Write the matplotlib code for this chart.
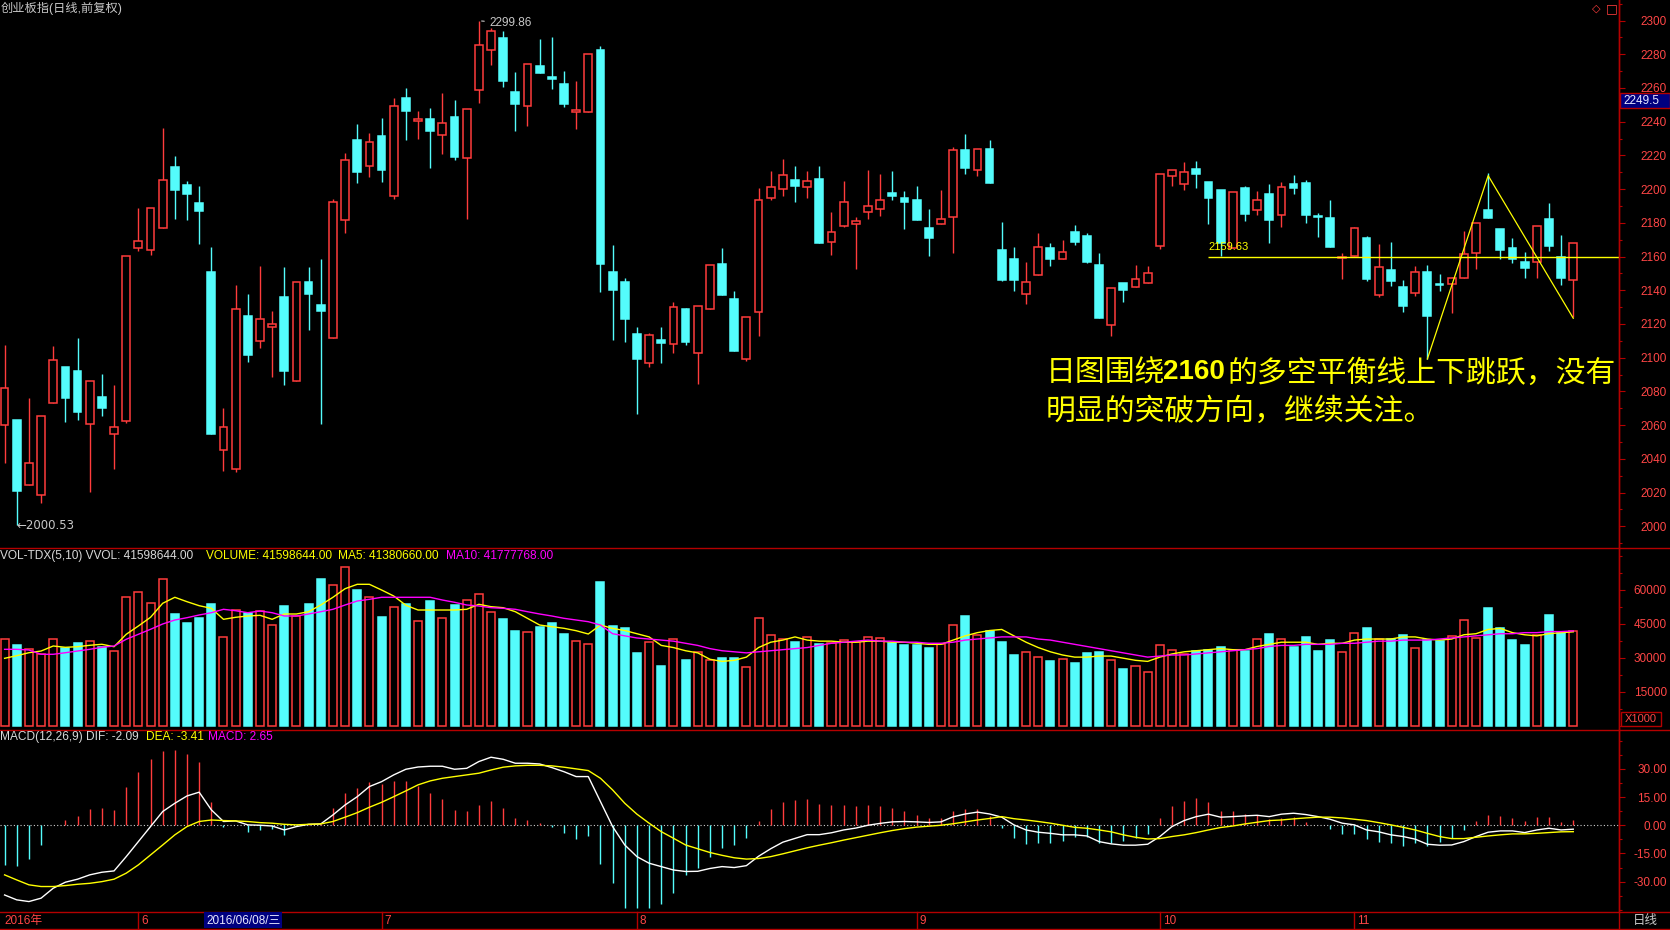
import numpy as np
import matplotlib.pyplot as plt
from matplotlib.patches import Rectangle
from matplotlib.lines import Line2D
from matplotlib.ticker import MultipleLocator

plt.rcParams['font.family'] = ['Liberation Sans', 'Noto Sans CJK SC', 'DejaVu Sans']

# ---- daily candles, 2016-05-17 .. 2016-11-25 ----
opens = [
    2059.9, 2063.0, 2024.3, 2018.3, 2072.9, 2094.5, 2092.1, 2060.5, 2076.5, 2054.5,
    2062.2, 2164.8, 2163.7, 2176.7, 2213.1, 2202.4, 2191.7, 2150.8, 2045.0, 2033.8,
    2124.7, 2109.7, 2118.0, 2136.0, 2086.0, 2144.9, 2131.2, 2111.5, 2181.4, 2229.1,
    2213.5, 2231.5, 2195.7, 2254.0, 2240.2, 2241.5, 2231.9, 2242.7, 2218.2, 2258.6,
    2282.3, 2289.6, 2257.6, 2249.6, 2272.8, 2266.3, 2262.3, 2246.0, 2245.9, 2282.5,
    2150.8, 2144.9, 2114.0, 2096.6, 2110.3, 2107.9, 2128.9, 2102.6, 2128.7, 2155.3,
    2134.8, 2099.0, 2126.9, 2194.9, 2200.2, 2205.4, 2201.0, 2205.9, 2168.4, 2178.3,
    2179.1, 2186.2, 2188.0, 2197.7, 2194.5, 2193.3, 2176.7, 2179.1, 2183.2, 2223.0,
    2211.5, 2223.6, 2163.8, 2158.5, 2137.6, 2149.2, 2164.8, 2158.3, 2174.5, 2172.2,
    2154.9, 2119.2, 2144.1, 2141.7, 2144.5, 2166.0, 2207.5, 2202.8, 2211.9, 2204.2,
    2199.2, 2164.8, 2200.6, 2187.4, 2197.1, 2184.4, 2203.0, 2203.6, 2183.6, 2182.8,
    2159.3, 2160.5, 2171.0, 2137.4, 2152.0, 2141.9, 2138.5, 2150.6, 2143.5, 2143.5,
    2147.0, 2161.9, 2187.4, 2176.3, 2164.8, 2156.5, 2156.5, 2182.0, 2159.5, 2145.9,
]
highs = [
    2107.5, 2063.0, 2075.9, 2065.2, 2106.9, 2094.5, 2111.7, 2086.0, 2090.3, 2083.6,
    2160.1, 2188.8, 2188.6, 2236.2, 2219.6, 2204.8, 2201.8, 2165.6, 2070.1, 2143.1,
    2137.8, 2154.4, 2127.7, 2153.8, 2144.7, 2153.8, 2158.5, 2194.1, 2221.2, 2238.6,
    2233.2, 2242.3, 2254.0, 2259.9, 2246.3, 2248.1, 2257.0, 2252.8, 2247.3, 2299.86,
    2295.3, 2293.6, 2269.4, 2274.0, 2289.0, 2290.2, 2270.0, 2264.1, 2279.9, 2284.8,
    2166.8, 2147.2, 2118.2, 2114.4, 2118.2, 2133.0, 2129.4, 2130.4, 2154.8, 2165.0,
    2139.5, 2123.9, 2200.4, 2210.7, 2217.8, 2213.7, 2210.7, 2213.7, 2186.4, 2204.8,
    2183.2, 2211.3, 2208.9, 2210.7, 2198.8, 2201.8, 2188.2, 2199.4, 2224.9, 2232.7,
    2223.6, 2229.1, 2180.5, 2165.6, 2156.7, 2173.9, 2168.0, 2169.8, 2178.7, 2173.9,
    2162.1, 2141.1, 2144.1, 2154.8, 2154.2, 2208.7, 2211.1, 2216.0, 2216.6, 2204.2,
    2199.6, 2198.1, 2201.8, 2198.8, 2203.0, 2204.2, 2208.3, 2205.4, 2185.6, 2193.5,
    2162.3, 2177.3, 2172.2, 2167.4, 2168.6, 2146.1, 2154.2, 2154.8, 2149.4, 2148.0,
    2175.1, 2179.7, 2209.5, 2176.3, 2171.0, 2162.5, 2177.9, 2191.7, 2172.8, 2167.8,
]
lows = [
    2037.3, 2000.53, 2024.3, 2014.0, 2072.9, 2062.0, 2063.2, 2020.1, 2065.6, 2034.2,
    2061.0, 2163.5, 2161.1, 2176.7, 2182.4, 2181.6, 2167.6, 2054.9, 2033.0, 2032.4,
    2097.6, 2105.9, 2088.7, 2084.0, 2086.0, 2116.6, 2060.9, 2111.5, 2174.1, 2203.8,
    2207.3, 2204.4, 2194.3, 2229.1, 2229.9, 2212.7, 2221.0, 2217.4, 2182.4, 2251.2,
    2273.8, 2260.7, 2234.6, 2237.6, 2269.0, 2259.5, 2248.9, 2235.8, 2245.9, 2139.1,
    2110.5, 2109.5, 2066.8, 2094.6, 2097.0, 2103.0, 2107.7, 2084.6, 2128.7, 2137.4,
    2104.1, 2098.2, 2113.0, 2193.7, 2196.1, 2192.5, 2194.9, 2168.2, 2161.1, 2177.3,
    2152.8, 2182.4, 2184.2, 2193.7, 2176.5, 2181.8, 2160.5, 2179.1, 2162.3, 2209.1,
    2208.0, 2203.8, 2145.7, 2139.7, 2132.0, 2149.2, 2154.6, 2158.3, 2167.0, 2156.1,
    2123.7, 2113.0, 2133.2, 2141.7, 2144.5, 2164.2, 2202.0, 2199.6, 2200.8, 2179.5,
    2160.5, 2164.8, 2181.2, 2184.8, 2168.2, 2177.7, 2197.3, 2180.1, 2171.8, 2165.8,
    2146.4, 2160.5, 2145.7, 2135.8, 2142.7, 2127.3, 2136.8, 2099.2, 2139.7, 2126.3,
    2147.0, 2152.8, 2183.0, 2158.3, 2155.9, 2147.4, 2147.4, 2163.5, 2143.3, 2124.3,
]
closes = [
    2081.8, 2021.1, 2037.3, 2065.2, 2098.4, 2076.3, 2068.0, 2086.0, 2070.3, 2058.7,
    2160.1, 2169.0, 2188.6, 2205.2, 2199.6, 2197.3, 2187.2, 2054.9, 2058.7, 2128.7,
    2101.8, 2122.7, 2119.8, 2092.3, 2144.7, 2138.0, 2127.9, 2192.1, 2217.0, 2210.3,
    2227.7, 2211.5, 2249.1, 2246.5, 2241.9, 2234.6, 2239.0, 2219.2, 2247.3, 2285.8,
    2293.6, 2264.3, 2250.6, 2274.0, 2269.0, 2265.5, 2250.6, 2246.3, 2279.9, 2155.7,
    2140.3, 2123.1, 2099.4, 2113.2, 2108.9, 2129.8, 2109.5, 2130.4, 2154.8, 2137.4,
    2104.1, 2123.9, 2193.3, 2201.0, 2208.1, 2202.0, 2204.6, 2168.2, 2174.3, 2192.1,
    2180.9, 2189.7, 2193.3, 2196.1, 2192.5, 2181.8, 2171.2, 2182.4, 2223.0, 2212.7,
    2223.6, 2203.8, 2146.3, 2146.3, 2144.7, 2165.4, 2158.7, 2162.5, 2168.8, 2156.7,
    2123.7, 2141.1, 2140.3, 2146.5, 2150.0, 2208.7, 2211.1, 2209.9, 2209.1, 2194.9,
    2168.2, 2198.1, 2185.4, 2193.3, 2181.8, 2201.0, 2200.8, 2184.8, 2183.2, 2165.8,
    2159.6, 2176.7, 2146.8, 2153.6, 2145.7, 2130.8, 2150.6, 2124.5, 2143.3, 2147.0,
    2161.7, 2179.7, 2183.0, 2163.7, 2158.7, 2153.4, 2177.9, 2166.4, 2147.4, 2167.8,
]

# volume in units of 1000
volumes = [
    38080, 35560, 33660, 31460, 38080, 34370, 36310, 37190, 34550, 32780,
    56870, 58810, 53960, 64550, 49240, 45270, 47610, 53650, 38960, 50870,
    49810, 50690, 44250, 52770, 48220, 53650, 64680, 62030, 69840, 59830,
    56870, 47910, 52190, 53780, 46150, 54970, 47340, 53210, 55280, 58060,
    50120, 47030, 41870, 41300, 43630, 45270, 40410, 37190, 36000, 63360,
    43830, 42890, 32090, 36760, 26430, 38160, 28770, 32560, 28770, 29700,
    29700, 25960, 47560, 40080, 38160, 36760, 39110, 35830, 36300, 37690,
    36760, 39110, 38630, 36300, 35360, 35360, 34420, 35830, 44300, 48500,
    40080, 41950, 36760, 31150, 32560, 30220, 28300, 29230, 27830, 32090,
    32560, 28770, 25030, 26430, 23620, 35360, 33490, 31620, 33020, 33490,
    34890, 33490, 33020, 38160, 40550, 38160, 34890, 39110, 33020, 37690,
    32560, 41020, 42890, 38160, 38160, 40080, 34420, 37690, 37220, 39580,
    46630, 38630, 51780, 42890, 37690, 35360, 40080, 48970, 41020, 41599,
]
vol_ma5 = [
    29690, 30840, 32160, 32910, 35120, 34550, 34810, 35430, 35870, 34810,
    40280, 43940, 47780, 53960, 56610, 54670, 52900, 51750, 46900, 47780,
    48360, 48660, 46900, 49240, 49240, 50250, 53210, 56610, 60400, 62340,
    62340, 59830, 57180, 53080, 51000, 51000, 51000, 51000, 51310, 53520,
    52460, 52020, 50250, 47340, 44380, 43630, 42930, 41870, 40410, 44380,
    42890, 41950, 40540, 39130, 35380, 34440, 33030, 32090, 29270, 28330,
    28800, 30210, 34440, 36790, 37730, 39130, 37730, 37260, 37260, 36790,
    36790, 37260, 37260, 36790, 36790, 36320, 35850, 35850, 37730, 39600,
    41010, 41950, 42420, 39600, 36790, 34440, 32560, 31150, 30210, 30210,
    30680, 30680, 29740, 28800, 28330, 30210, 31620, 32560, 33030, 33500,
    33970, 33500, 33500, 34910, 35850, 36790, 36790, 36790, 35850, 36320,
    36320, 37730, 38200, 38200, 38200, 39130, 39130, 38200, 37730, 38200,
    40070, 40540, 42420, 42890, 41010, 40070, 39600, 40540, 41010, 41381,
]
vol_ma10 = [
    33660, 33660, 33350, 31460, 31460, 32160, 32910, 33660, 34550, 35120,
    38080, 40280, 42490, 44830, 46590, 47610, 48800, 49810, 51310, 50690,
    49810, 50560, 49810, 48360, 48360, 49240, 50250, 51310, 53210, 54970,
    55720, 56610, 56610, 56610, 56610, 56610, 55410, 54400, 53210, 52770,
    52020, 51750, 51310, 50250, 49240, 48360, 47340, 46590, 45840, 44380,
    40540, 39600, 38660, 38200, 37730, 37260, 36320, 35380, 33970, 33030,
    32560, 32090, 32560, 33030, 33500, 33970, 34440, 35380, 36320, 36790,
    37260, 37730, 37260, 37260, 36790, 36790, 36320, 36320, 36790, 37730,
    38200, 38660, 39130, 39130, 39130, 38200, 37730, 36790, 35850, 34910,
    33970, 33030, 32090, 31150, 30210, 30680, 31150, 31150, 31620, 32090,
    32560, 33030, 33500, 33970, 34910, 35380, 35380, 35850, 35850, 35850,
    36320, 36320, 36790, 37260, 37260, 37730, 37730, 37730, 38200, 38660,
    39130, 39600, 40070, 40540, 40540, 41010, 41010, 41480, 41480, 41778,
]

# MACD(12,26,9)
dif = [
    -37.1, -39.7, -40.6, -38.8, -33.5, -30.3, -28.7, -26.4, -25.0, -24.3,
    -16.7, -8.7, -0.7, 7.3, 11.7, 15.6, 17.6, 8.2, 2.0, 2.3,
    0.2, 0.0, -0.4, -2.5, -0.7, 0.5, 0.7, 5.5, 10.8, 15.2,
    20.6, 23.2, 26.8, 29.8, 31.0, 31.4, 31.4, 29.8, 30.3, 33.9,
    36.2, 35.1, 33.0, 33.0, 32.6, 30.7, 28.5, 25.9, 25.9, 12.6,
    -0.7, -10.5, -16.7, -20.2, -22.0, -23.8, -24.6, -24.5, -23.0, -22.0,
    -22.5, -21.5, -16.5, -12.5, -9.0, -7.0, -5.0, -5.0, -4.0, -2.5,
    -1.5, 0.0, 1.0, 1.8, 2.0, 1.8, 1.5, 1.8, 4.5, 6.0,
    7.0, 6.0, 4.3, 0.2, -2.5, -3.7, -4.3, -5.1, -5.1, -5.7,
    -8.7, -9.9, -10.6, -10.6, -10.1, -6.0, -0.7, 2.5, 4.6, 5.9,
    4.3, 4.6, 5.0, 5.3, 4.6, 5.9, 6.4, 5.7, 4.6, 3.2,
    1.1, 0.2, -2.5, -3.5, -5.1, -6.0, -7.4, -10.1, -10.6, -10.5,
    -8.7, -6.0, -3.7, -3.0, -3.0, -3.9, -2.5, -1.6, -2.5, -2.09,
]
dea = [
    -26.4, -29.1, -31.7, -32.6, -32.6, -32.1, -31.4, -30.9, -30.0, -28.7,
    -25.5, -21.1, -15.8, -10.5, -5.1, -0.7, 2.0, 2.8, 2.5, 2.3,
    2.0, 1.4, 1.1, 0.5, 0.2, 0.5, 0.7, 2.0, 4.3, 6.7,
    9.6, 12.2, 15.2, 18.3, 21.5, 23.6, 25.0, 25.9, 26.8, 27.7,
    29.4, 30.9, 31.6, 31.9, 31.9, 31.6, 30.9, 30.0, 29.1, 25.0,
    18.8, 11.7, 5.9, 1.1, -3.4, -6.9, -10.5, -12.5, -14.5, -16.0,
    -17.3, -18.0, -17.7, -16.7, -15.2, -13.6, -12.0, -10.6, -9.3, -7.9,
    -6.6, -5.3, -4.0, -2.8, -1.8, -1.0, -0.5, 0.0, 0.8, 1.8,
    2.8, 3.6, 4.6, 3.5, 2.8, 2.0, 1.1, 0.0, -1.1, -1.6,
    -2.5, -3.5, -5.1, -6.4, -7.3, -7.1, -6.0, -5.1, -3.9, -2.5,
    -1.2, -0.4, 0.7, 1.6, 2.5, 2.8, 3.4, 3.9, 4.3, 4.3,
    3.9, 3.2, 2.5, 1.4, 0.2, -1.1, -2.5, -4.3, -6.0, -7.1,
    -7.1, -6.4, -5.7, -5.1, -4.6, -4.6, -4.3, -3.9, -3.5, -3.41,
]
macd_bar = [
    -21.1, -21.6, -17.9, -10.5, 0.2, 2.8, 5.0, 8.7, 9.2, 8.2,
    20.6, 28.5, 35.3, 39.7, 40.1, 37.9, 33.7, 12.4, -0.7, 0.3,
    -3.4, -2.5, -2.1, -5.1, -0.3, 0.7, 0.9, 9.0, 17.4, 20.0,
    23.0, 21.8, 23.6, 23.6, 20.9, 17.4, 14.0, 8.2, 7.8, 10.8,
    12.9, 9.2, 4.1, 3.0, 1.4, -0.7, -4.3, -7.4, -5.7, -20.6,
    -30.5, -44.1, -44.1, -44.1, -42.0, -36.2, -26.4, -23.0, -17.0, -12.0,
    -10.4, -7.0, 2.4, 8.4, 12.4, 13.2, 14.0, 11.2, 10.6, 10.8,
    10.2, 10.6, 10.0, 9.2, 7.6, 5.6, 4.0, 3.6, 7.4, 8.4,
    8.4, 4.8, -1.6, -6.9, -10.1, -9.2, -9.2, -8.2, -6.0, -6.0,
    -9.6, -9.2, -8.2, -6.9, -4.6, 3.7, 10.3, 12.9, 14.4, 12.4,
    7.8, 7.6, 6.0, 5.3, 3.2, 4.1, 4.3, 1.8, 0.2, -2.1,
    -4.8, -4.6, -7.4, -8.7, -9.6, -11.3, -9.2, -11.0, -8.7, -6.9,
    -2.5, 2.0, 5.5, 5.0, 4.1, 2.3, 4.6, 4.6, 1.8, 2.65,
]

month_pos = [0, 11, 31, 52, 75, 95, 111]
month_text = ["2016年", "6", "7", "8", "9", "10", "11"]

price_ticks = list(range(2000, 2301, 20))
vol_ticks = [15000, 30000, 45000, 60000]
macd_ticks = [-30, -15, 0, 15, 30]

balance_level = 2159.63
balance_from = 99
zig_x = [117, 122, 129]
zig_y = [2099.2, 2208.0, 2123.4]

for arr in (opens, highs, lows, closes, volumes, vol_ma5, vol_ma10, dif, dea, macd_bar):
    assert len(arr) == 130, len(arr)

# ---- layout (pixel based) ----
W, H = 1670, 930
UP = '#ff3c3c'
DOWN = '#54fcfc'
FRAME = '#b40000'
LABEL = '#ff4646'
GRAY = '#c8c8c8'
YEL = '#ffff00'
AX_RIGHT = 1619
XLIM = (-0.378, 132.76)

fig = plt.figure(figsize=(W / 100, H / 100), dpi=100, facecolor='black')


def px_axes(x0, y0, x1, y1):
    return fig.add_axes([x0 / W, 1 - y1 / H, (x1 - x0) / W, (y1 - y0) / H],
                        facecolor='black')


def fx(x):
    return x / W


def fy(y):
    return 1 - y / H


def style_axis(ax, ticks, labels, ylim, minor):
    ax.set_xlim(*XLIM)
    ax.set_ylim(*ylim)
    for s in ('top', 'left', 'bottom'):
        ax.spines[s].set_visible(False)
    ax.spines['right'].set_color(FRAME)
    ax.spines['right'].set_linewidth(1)
    ax.set_xticks([])
    ax.yaxis.tick_right()
    ax.set_yticks(ticks)
    ax.set_yticklabels(labels)
    ax.yaxis.set_minor_locator(MultipleLocator(minor))
    ax.tick_params(axis='y', which='major', direction='out', length=4.5, width=0.8,
                   color=FRAME, labelcolor=LABEL, labelsize=8.5, pad=30)
    ax.tick_params(axis='y', which='minor', direction='out', length=2.5, width=0.8,
                   color=FRAME)
    for lab in ax.get_yticklabels():
        lab.set_horizontalalignment('right')


ax_p = px_axes(0, 0, AX_RIGHT, 547.5)
ax_v = px_axes(0, 547.5, AX_RIGHT, 729.6)
ax_m = px_axes(0, 729.6, AX_RIGHT, 911.7)

o = np.array(opens)
h = np.array(highs)
l = np.array(lows)
c = np.array(closes)
x = np.arange(len(c))
up = c >= o
col = np.where(up, UP, DOWN)

# ---- price panel ----
style_axis(ax_p, price_ticks, [str(t) for t in price_ticks], (1987.4, 2312.2), 10)
ax_p.vlines(x, l, h, colors=col, lw=1, zorder=1)
body_lo = np.minimum(o, c)
body_h = np.maximum(np.abs(c - o), 0.7)
ax_p.bar(x[up], body_h[up], bottom=body_lo[up], width=0.64,
         facecolor='black', edgecolor=UP, lw=1.1, zorder=2)
ax_p.bar(x[~up], body_h[~up], bottom=body_lo[~up], width=0.64,
         facecolor=DOWN, edgecolor=DOWN, lw=1.1, zorder=2)

ax_p.hlines(balance_level, balance_from, XLIM[1], colors=YEL, lw=1, zorder=3)
ax_p.text(balance_from, balance_level + 3, f"{balance_level:.2f}", color=YEL,
          fontsize=8, va='bottom', ha='left', zorder=4)
ax_p.plot(zig_x, zig_y, color=YEL, lw=0.9, zorder=3)

i_hi = int(np.argmax(h))
i_lo = int(np.argmin(l))
ax_p.annotate(f"{h[i_hi]:.2f}", xy=(i_hi, h[i_hi]), xytext=(i_hi + 0.9, h[i_hi] - 1.5),
              color=GRAY, fontsize=8.5, va='center', ha='left',
              arrowprops=dict(arrowstyle='-', color=GRAY, lw=0.8))
ax_p.text(i_lo, l[i_lo] - 0.3, f"←{l[i_lo]:.2f}", color=GRAY, fontsize=8.5,
          va='center', ha='left', family=['DejaVu Sans'])

fig.text(fx(1), fy(8), "创业板指(日线,前复权)", color=GRAY, fontsize=8.8, va='center')
fig.text(fx(1592), fy(9), "◇", color=UP, fontsize=8, va='center',
         family=['DejaVu Sans'])
fig.text(fx(1606), fy(9), "□", color=UP, fontsize=9, va='center',
         family=['DejaVu Sans'])

# comment text
fig.text(fx(1046), fy(373), "日图围绕", color=YEL, fontsize=21.5, va='center',
         family=['Noto Sans CJK SC'])
fig.text(fx(1163), fy(372), "2160", color=YEL, fontsize=20, va='center',
         fontweight='bold', family=['Liberation Sans'])
fig.text(fx(1227), fy(373), "的多空平衡线上下跳跃，没有", color=YEL, fontsize=21.5,
         va='center', family=['Noto Sans CJK SC'])
fig.text(fx(1046), fy(411), "明显的突破方向，继续关注。", color=YEL, fontsize=21.5,
         va='center', family=['Noto Sans CJK SC'])

# ---- volume panel ----
v = np.array(volumes)
style_axis(ax_v, vol_ticks, [str(t) for t in vol_ticks], (-1765, 78580), 7500)
ax_v.bar(x[up], v[up], width=0.66, facecolor='black', edgecolor=UP, lw=1.1)
ax_v.bar(x[~up], v[~up], width=0.66, facecolor=DOWN, edgecolor=DOWN, lw=1.1)
ax_v.plot(x, vol_ma5, color=YEL, lw=1)
ax_v.plot(x, vol_ma10, color='#ff00ff', lw=1)

fig.text(fx(0), fy(556), "VOL-TDX(5,10) VVOL: 41598644.00", color='#d8d8d8',
         fontsize=8.6, va='center')
fig.text(fx(205.5), fy(556), "VOLUME: 41598644.00", color=YEL, fontsize=8.6,
         va='center')
fig.text(fx(338.5), fy(556), "MA5: 41380660.00", color=YEL, fontsize=8.6,
         va='center')
fig.text(fx(446), fy(556), "MA10: 41777768.00", color='#ff00ff', fontsize=8.6,
         va='center')
fig.add_artist(Rectangle((fx(1621), fy(726)), fx(40), 14 / H, transform=fig.transFigure,
                         facecolor='black', edgecolor=FRAME, lw=1, zorder=5))
fig.text(fx(1641), fy(719), "X1000", color=LABEL, fontsize=8, ha='center',
         va='center', zorder=6)

# ---- MACD panel ----
mb = np.array(macd_bar)
style_axis(ax_m, macd_ticks, [f"{t:.2f}" for t in macd_ticks], (-46.0, 50.9), 7.5)
ax_m.axhline(0, color='#d0d0d0', lw=0.8, ls=(0, (1, 2)))
ax_m.vlines(x, 0, mb, colors=np.where(mb >= 0, UP, DOWN), lw=1)
ax_m.plot(x, dif, color='white', lw=1)
ax_m.plot(x, dea, color=YEL, lw=1)

fig.text(fx(0), fy(737), "MACD(12,26,9) DIF: -2.09", color='#d8d8d8', fontsize=8.6,
         va='center')
fig.text(fx(146), fy(737), "DEA: -3.41", color=YEL, fontsize=8.6, va='center')
fig.text(fx(208.5), fy(737), "MACD: 2.65", color='#ff00ff', fontsize=8.6, va='center')

# ---- frame lines ----
for yy in (547.5, 729.6, 911.7, 928.5):
    fig.add_artist(Line2D([0, 1], [fy(yy), fy(yy)], color=FRAME, lw=1,
                          transform=fig.transFigure))
fig.add_artist(Line2D([fx(AX_RIGHT), fx(AX_RIGHT)], [0, 1], color=FRAME, lw=1,
                      transform=fig.transFigure))

# cursor price box (just under the 2260 label)
fig.add_artist(Rectangle((fx(1620), fy(108)), fx(50), 15 / H, transform=fig.transFigure,
                         facecolor='#000080', edgecolor=FRAME, lw=1, zorder=5))
fig.text(fx(1623), fy(100.5), "2249.5", color='#e8e8ff', fontsize=8.5, va='center',
         zorder=6)

# ---- date strip ----
x_to_px = lambda i: (i - XLIM[0]) / (XLIM[1] - XLIM[0]) * AX_RIGHT
for pos, txt in zip(month_pos, month_text):
    xp = x_to_px(pos)
    if pos > 0:
        fig.add_artist(Line2D([fx(xp), fx(xp)], [fy(928.5), fy(911.7)], color=FRAME,
                              lw=1, transform=fig.transFigure))
    fig.text(fx(xp + 3 if pos > 0 else 4), fy(921), txt, color=LABEL, fontsize=8.5,
             va='center')
fig.add_artist(Rectangle((fx(204), fy(928)), fx(78), 16 / H, transform=fig.transFigure,
                         facecolor='#000080', edgecolor='none', zorder=5))
fig.text(fx(206), fy(920.5), "2016/06/08/三", color='#e8e8ff', fontsize=8.5,
         va='center', zorder=6)
fig.text(fx(1645), fy(921), "日线", color=GRAY, fontsize=9, ha='center', va='center')

fig.savefig("out.png", dpi=100, facecolor='black')
